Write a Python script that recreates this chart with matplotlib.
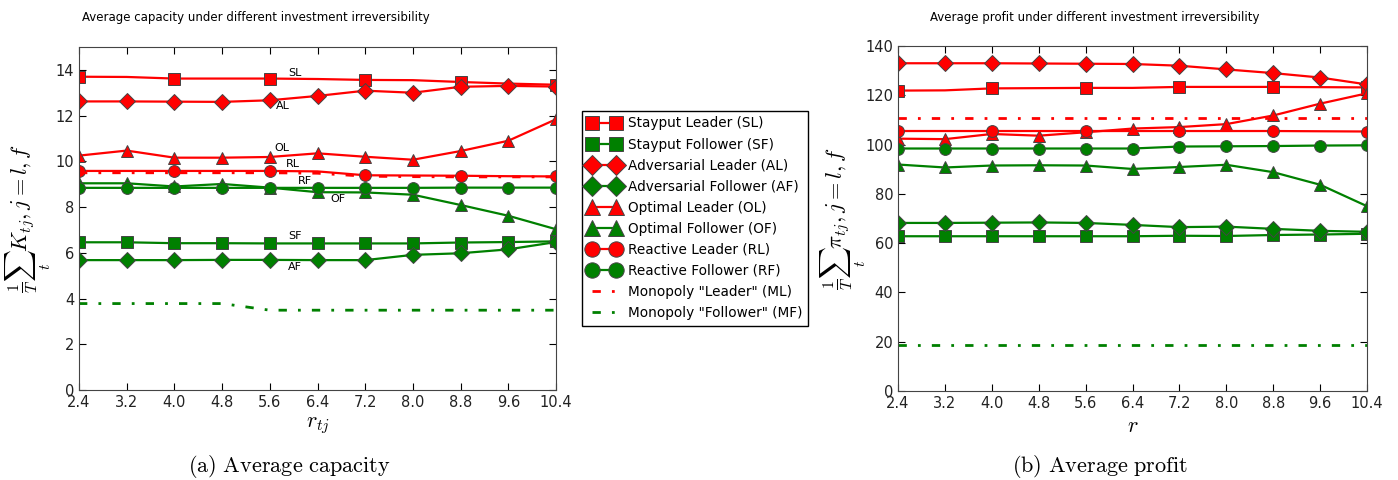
import matplotlib
matplotlib.use("Agg")
import matplotlib.pyplot as plt
import numpy as np


plt.rcParams['mathtext.fontset'] = 'cm'
plt.rcParams['font.family'] = 'DejaVu Sans'

# x axis: investment irreversibility
r_vals = [2.4, 3.2, 4.0, 4.8, 5.6, 6.4, 7.2, 8.0, 8.8, 9.6, 10.4]
r_ticks = [2.4, 3.2, 4.0, 4.8, 5.6, 6.4, 7.2, 8.0, 8.8, 9.6, 10.4]

# AVERAGE CAPACITY
cap_sl = [13.70, 13.69, 13.62, 13.62, 13.62, 13.60, 13.56, 13.55, 13.47, 13.40, 13.35]
cap_sf = [6.46, 6.46, 6.42, 6.42, 6.41, 6.41, 6.41, 6.41, 6.45, 6.47, 6.50]
cap_al = [12.62, 12.62, 12.61, 12.60, 12.67, 12.86, 13.09, 13.00, 13.26, 13.30, 13.27]
cap_af = [5.68, 5.68, 5.68, 5.69, 5.69, 5.68, 5.68, 5.91, 5.98, 6.15, 6.47]
cap_ol = [10.25, 10.47, 10.16, 10.16, 10.19, 10.35, 10.20, 10.07, 10.45, 10.90, 11.84]
cap_of = [9.04, 9.04, 8.90, 9.01, 8.85, 8.65, 8.64, 8.54, 8.09, 7.62, 7.03]
cap_rl = [9.58, 9.58, 9.58, 9.58, 9.58, 9.56, 9.39, 9.38, 9.37, 9.35, 9.34]
cap_rf = [8.84, 8.84, 8.84, 8.84, 8.84, 8.84, 8.84, 8.84, 8.85, 8.85, 8.85]
cap_ml = [9.50, 9.50, 9.50, 9.50, 9.50, 9.48, 9.35, 9.33, 9.32, 9.32, 9.32]
cap_mf = [3.78, 3.78, 3.78, 3.78, 3.49, 3.49, 3.49, 3.49, 3.49, 3.49, 3.49]

# AVERAGE PROFIT
pro_sl = [121.9, 122.0, 122.8, 122.9, 123.0, 123.0, 123.4, 123.4, 123.4, 123.3, 123.2]
pro_sf = [62.8, 62.8, 62.8, 62.8, 62.8, 62.8, 63.0, 62.9, 63.3, 63.5, 63.8]
pro_al = [133.0, 133.0, 133.0, 132.9, 132.8, 132.7, 132.0, 130.5, 129.0, 127.2, 124.4]
pro_af = [68.2, 68.2, 68.3, 68.4, 68.2, 67.4, 66.5, 66.7, 65.8, 65.0, 64.6]
pro_ol = [102.4, 102.2, 104.3, 103.6, 105.0, 106.5, 107.1, 108.3, 111.8, 116.6, 120.8]
pro_of = [91.9, 90.7, 91.5, 91.6, 91.5, 90.1, 90.9, 91.8, 88.8, 83.7, 75.0]
pro_rl = [105.5, 105.5, 105.5, 105.5, 105.5, 105.5, 105.5, 105.5, 105.5, 105.4, 105.3]
pro_rf = [98.4, 98.4, 98.4, 98.4, 98.4, 98.4, 99.2, 99.3, 99.4, 99.6, 99.7]
pro_ml = [110.8, 110.8, 110.8, 110.8, 110.8, 110.8, 110.8, 110.8, 110.8, 110.8, 110.8]
pro_mf = [18.8, 18.8, 18.8, 18.8, 18.8, 18.8, 18.8, 18.8, 18.8, 18.8, 18.8]

labels = ['Stayput Leader (SL)', 'Stayput Follower (SF)',
          'Adversarial Leader (AL)', 'Adversarial Follower (AF)',
          'Optimal Leader (OL)', 'Optimal Follower (OF)',
          'Reactive Leader (RL)', 'Reactive Follower (RF)',
          'Monopoly "Leader" (ML)', 'Monopoly "Follower" (MF)']

# curve labels in the capacity plot
tag_names = ['SL', 'AL', 'OL', 'RL', 'RF', 'OF', 'SF', 'AF']
tag_x = [6.02, 5.82, 5.81, 5.99, 6.19, 6.75, 6.02, 6.02]
tag_y = [13.86, 12.42, 10.58, 9.88, 9.14, 8.35, 6.73, 5.37]

RED = '#ff0000'
GREEN = '#008000'


def draw(ax, series):
    handles = []
    styles = [('s', RED, 2, 8), ('s', GREEN, 1, 8),
              ('D', RED, 1, 8.2), ('D', GREEN, 1, 8.2),
              ('^', RED, 1, 9), ('^', GREEN, 1, 9),
              ('o', RED, 2, 8.5), ('o', GREEN, 1, 8.5)]
    for (m, c, ev, ms), y in zip(styles, series[:8]):
        h, = ax.plot(r_vals, y, color=c, marker=m, markevery=ev,
                     markersize=ms, mec='#444444', mew=0.7, lw=1.6)
        handles.append(h)
    for c, y in zip([RED, GREEN], series[8:]):
        h, = ax.plot(r_vals, y, color=c, lw=2, dashes=(3, 4, 1, 4))
        handles.append(h)
    ax.set_xlim(2.4, 10.4)
    ax.set_xticks(r_ticks)
    ax.set_xticklabels(['%.1f' % t for t in r_ticks])
    ax.tick_params(direction='in', top=True, right=True, labelsize=10.5,
                   labelcolor='#222222', length=5)
    for s in ax.spines.values():
        s.set_color('#444444')
    return handles


fig = plt.figure(figsize=(13.98, 4.8), dpi=100)
ax1 = fig.add_axes([79/1398, 1-390/480, 477/1398, 343/480])
ax2 = fig.add_axes([898/1398, 1-391/480, 469/1398, 345/480])

hs = draw(ax1, [cap_sl, cap_sf, cap_al, cap_af, cap_ol, cap_of, cap_rl, cap_rf, cap_ml, cap_mf])
ax1.set_ylim(0, 15)
ax1.set_yticks(range(0, 15, 2))
ax1.set_xlabel(r'$r_{tj}$', fontsize=16)
ax1.set_ylabel(r'$\frac{1}{T}\sum_t K_{tj}, j=l,f$', fontsize=16, labelpad=2)
for n, x, y in zip(tag_names, tag_x, tag_y):
    ax1.text(x, y, n, fontsize=8, ha='center', va='center')

draw(ax2, [pro_sl, pro_sf, pro_al, pro_af, pro_ol, pro_of, pro_rl, pro_rf, pro_ml, pro_mf])
ax2.set_ylim(0, 140)
ax2.set_yticks(range(0, 141, 20))
ax2.set_xlabel(r'$r$', fontsize=16)
ax2.set_ylabel(r'$\frac{1}{T}\sum_t \pi_{tj}, j=l,f$', fontsize=16, labelpad=-2)

fig.text(82/1398, 1-18/480, 'Average capacity under different investment irreversibility',
         fontsize=8.5, ha='left', va='center')
fig.text(930/1398, 1-18/480, 'Average profit under different investment irreversibility',
         fontsize=8.5, ha='left', va='center')

leg = fig.legend(hs, labels, loc='upper left', bbox_to_anchor=(582/1398, 1-111/480),
                 borderaxespad=0, numpoints=2, fontsize=9.8, fancybox=False,
                 framealpha=1, edgecolor='black', handlelength=2.4, markerscale=1.3,
                 handletextpad=0.55, borderpad=0.4, labelspacing=0.52)
leg.get_frame().set_linewidth(1.0)

fig.text(289/1398, 1-467/480, r'$\mathrm{(a)\ Average\ capacity}$', fontsize=16,
         ha='center', va='center')
fig.text(1100/1398, 1-467/480, r'$\mathrm{(b)\ Average\ profit}$', fontsize=16,
         ha='center', va='center')

fig.savefig('out.png', dpi=100)
